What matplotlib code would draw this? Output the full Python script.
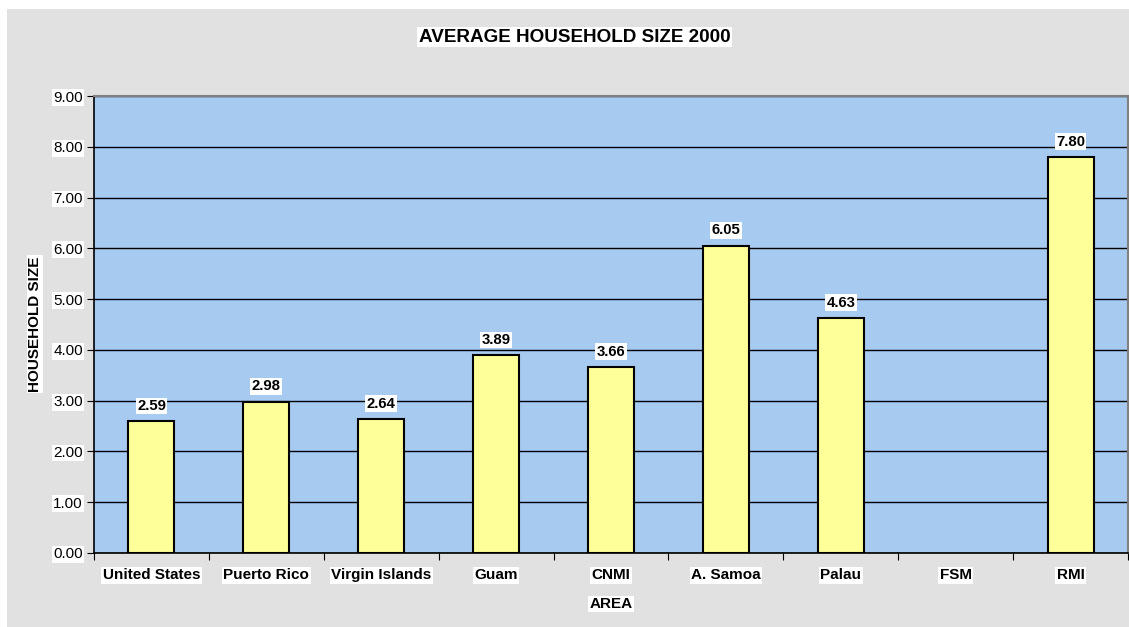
import numpy as np
import matplotlib
matplotlib.use("Agg")
import matplotlib.pyplot as plt
from matplotlib.patches import Rectangle

categories = ["United States", "Puerto Rico", "Virgin Islands", "Guam", "CNMI",
              "A. Samoa", "Palau", "FSM", "RMI"]
values = [2.59, 2.98, 2.64, 3.89, 3.66, 6.05, 4.63, np.nan, 7.80]
yticks = [0, 1, 2, 3, 4, 5, 6, 7, 8, 9]

plt.rcParams['font.family'] = ['Liberation Sans', 'DejaVu Sans']

W, H = 1129, 627
fig = plt.figure(figsize=(W / 100, H / 100), dpi=100)
fig.patch.set_facecolor('white')
fig.patches.append(Rectangle((7 / W, 0), 1 - 7 / W, 1 - 9 / H, transform=fig.transFigure,
                             facecolor='#E1E1E1', edgecolor='none', zorder=-10))

ax = fig.add_axes([94 / W, 74 / H, (1128 - 94) / W, (553 - 96) / H])
ax.set_zorder(5)
ax.set_facecolor('#A6CAF0')

x = np.arange(len(categories))
ax.bar(x, values, width=0.4, color='#FFFF99', edgecolor='black', linewidth=1.5, zorder=3)

box = dict(facecolor='white', edgecolor='none', pad=1.0)
for xi, v in zip(x, values):
    if np.isnan(v):
        continue
    ax.annotate(f"{v:.2f}", (xi, v), xytext=(0, 6), textcoords='offset points',
                ha='center', va='bottom', fontsize=10.7, fontweight='bold', bbox=box, zorder=4)

ax.set_xlim(-0.5, len(categories) - 0.5)
ax.set_ylim(0, 9)
ax.set_yticks(yticks)
ax.set_yticklabels([f"{t:.2f}" for t in yticks], fontsize=11)
for lab in ax.get_yticklabels():
    lab.set_bbox(box)
ax.yaxis.grid(True, color='black', linewidth=1)
ax.set_axisbelow(True)

ax.set_xticks(np.arange(len(categories) + 1) - 0.5)
ax.set_xticklabels([])
ax.set_xticks(x, minor=True)
ax.set_xticklabels(categories, minor=True, fontsize=11, fontweight='bold')
for lab in ax.get_xticklabels(minor=True):
    lab.set_bbox(box)
ax.tick_params(axis='x', which='minor', length=0, pad=11)
ax.tick_params(axis='x', which='major', length=5, direction='out', color='black')
ax.tick_params(axis='y', length=5, color='black', pad=3)

for s in ['top', 'right']:
    ax.spines[s].set_color('#808080')
    ax.spines[s].set_linewidth(1.5)
for s in ['left', 'bottom']:
    ax.spines[s].set_color('black')
    ax.spines[s].set_linewidth(1.2)

fig.text(574.5 / W, 1 - 37 / H, "AVERAGE HOUSEHOLD SIZE 2000", ha='center', va='center',
         fontsize=13.6, fontweight='bold', bbox=box)
fig.text(611 / W, 1 - 604 / H, "AREA", ha='center', va='center',
         fontsize=11, fontweight='bold', bbox=box)
fig.text(35 / W, 1 - 324 / H, "HOUSEHOLD SIZE", ha='center', va='center', rotation=90,
         fontsize=11, fontweight='bold', bbox=box)

fig.savefig("out.png", dpi=100)
